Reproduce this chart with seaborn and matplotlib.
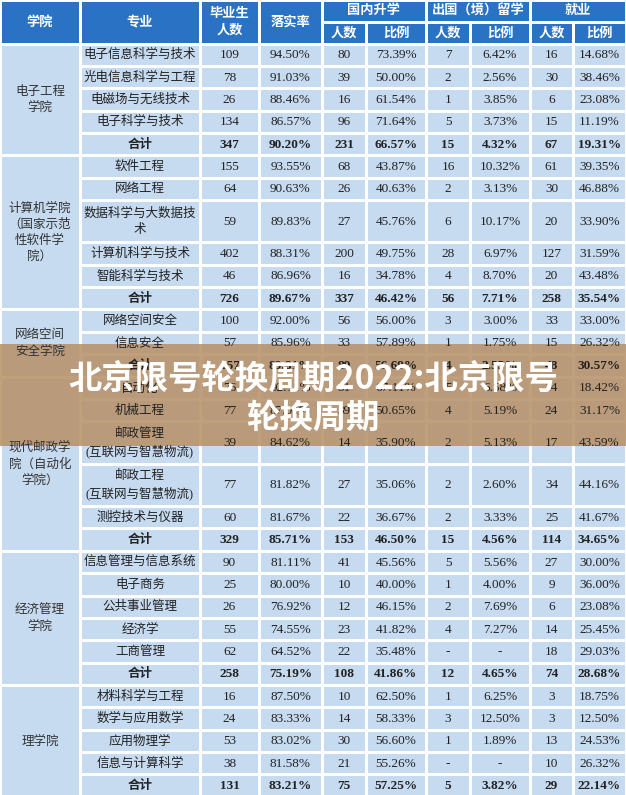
import matplotlib
matplotlib.use("Agg")
import matplotlib.pyplot as plt
import seaborn as sns
from matplotlib.patches import Rectangle

sns.set_theme(style="white")
plt.rcParams['font.family'] = ['Liberation Serif', 'Noto Sans CJK SC', 'DejaVu Sans']

colleges = ["电子工程\n学院", "计算机学院\n（国家示范\n性软件学\n院）", "网络空间\n安全学院",
            "现代邮政学\n院（自动化\n学院）", "经济管理\n学院", "理学院"]
majors = [
    ["电子信息科学与技术", "光电信息科学与工程", "电磁场与无线技术", "电子科学与技术", "合计"],
    ["软件工程", "网络工程", "数据科学与大数据技\n术", "计算机科学与技术", "智能科学与技术", "合计"],
    ["网络空间安全", "信息安全", "合计"],
    ["自动化", "机械工程", "邮政管理\n(互联网与智慧物流)", "邮政工程\n(互联网与智慧物流)", "测控技术与仪器", "合计"],
    ["信息管理与信息系统", "电子商务", "公共事业管理", "经济学", "工商管理", "合计"],
    ["材料科学与工程", "数学与应用数学", "应用物理学", "信息与计算科学", "合计"],
]
graduates = [[109, 78, 26, 134, 347], [155, 64, 59, 402, 46, 726], [100, 57, 157],
             [76, 77, 39, 77, 60, 329], [90, 25, 26, 55, 62, 258], [16, 24, 53, 38, 131]]
rate = [["94.50%", "91.03%", "88.46%", "86.57%", "90.20%"],
        ["93.55%", "90.63%", "89.83%", "88.31%", "86.96%", "89.67%"],
        ["92.00%", "85.96%", "89.81%"],
        ["92.11%", "87.01%", "84.62%", "81.82%", "81.67%", "85.71%"],
        ["81.11%", "80.00%", "76.92%", "74.55%", "64.52%", "75.19%"],
        ["87.50%", "83.33%", "83.02%", "81.58%", "83.21%"]]
dom_n = [[80, 39, 16, 96, 231], [68, 26, 27, 200, 16, 337], [56, 33, 89],
         [51, 39, 14, 27, 22, 153], [41, 10, 12, 23, 22, 108], [10, 14, 30, 21, 75]]
dom_p = [["73.39%", "50.00%", "61.54%", "71.64%", "66.57%"],
         ["43.87%", "40.63%", "45.76%", "49.75%", "34.78%", "46.42%"],
         ["56.00%", "57.89%", "56.69%"],
         ["67.11%", "50.65%", "35.90%", "35.06%", "36.67%", "46.50%"],
         ["45.56%", "40.00%", "46.15%", "41.82%", "35.48%", "41.86%"],
         ["62.50%", "58.33%", "56.60%", "55.26%", "57.25%"]]
abr_n = [[7, 2, 1, 5, 15], [16, 2, 6, 28, 4, 56], [3, 1, 4],
         [5, 4, 2, 2, 2, 15], [5, 1, 2, 4, "-", 12], [1, 3, 1, "-", 5]]
abr_p = [["6.42%", "2.56%", "3.85%", "3.73%", "4.32%"],
         ["10.32%", "3.13%", "10.17%", "6.97%", "8.70%", "7.71%"],
         ["3.00%", "1.75%", "2.55%"],
         ["6.58%", "5.19%", "5.13%", "2.60%", "3.33%", "4.56%"],
         ["5.56%", "4.00%", "7.69%", "7.27%", "-", "4.65%"],
         ["6.25%", "12.50%", "1.89%", "-", "3.82%"]]
emp_n = [[16, 30, 6, 15, 67], [61, 30, 20, 127, 20, 258], [33, 15, 48],
         [14, 24, 17, 34, 25, 114], [27, 9, 6, 14, 18, 74], [3, 3, 13, 10, 29]]
emp_p = [["14.68%", "38.46%", "23.08%", "11.19%", "19.31%"],
         ["39.35%", "46.88%", "33.90%", "31.59%", "43.48%", "35.54%"],
         ["33.00%", "26.32%", "30.57%"],
         ["18.42%", "31.17%", "43.59%", "44.16%", "41.67%", "34.65%"],
         ["30.00%", "36.00%", "23.08%", "25.45%", "29.03%", "28.68%"],
         ["18.75%", "12.50%", "24.53%", "26.32%", "22.14%"]]

W, H = 626, 795
fig = plt.figure(figsize=(W / 100, H / 100), dpi=100)
ax = fig.add_axes([0, 0, 1, 1])
ax.set_xlim(0, W)
ax.set_ylim(H, 0)
ax.axis("off")

xs = [0, 80, 200, 259, 322, 366, 426, 470, 530, 573, 626]
HDR = "#2a72c4"
BODY = "#c6daf0"
GAP = 1.5

def cell(x0, x1, y0, y1, text, color, tcolor="#222", bold=False, size=9.5):
    ax.add_patch(Rectangle((x0 + GAP, y0 + GAP), x1 - x0 - 2 * GAP, y1 - y0 - 2 * GAP,
                           facecolor=color, edgecolor="none"))
    if text != "":
        ax.text((x0 + x1) / 2, (y0 + y1) / 2, str(text), ha="center", va="center",
                color=tcolor, fontsize=size, fontweight="bold" if bold else "normal",
                linespacing=1.45)

cell(xs[0], xs[1], 0, 44, "学院", HDR, "white", True)
cell(xs[1], xs[2], 0, 44, "专业", HDR, "white", True)
cell(xs[2], xs[3], 0, 44, "毕业生\n人数", HDR, "white", True)
cell(xs[3], xs[4], 0, 44, "落实率", HDR, "white", True)
for i, g in enumerate(["国内升学", "出国（境）留学", "就业"]):
    c = 4 + 2 * i
    cell(xs[c], xs[c + 2], 0, 22, g, HDR, "white", True)
    cell(xs[c], xs[c + 1], 22, 44, "人数", HDR, "white", True)
    cell(xs[c + 1], xs[c + 2], 22, 44, "比例", HDR, "white", True)

h1 = 22.35
y = 44.0
for gi, col in enumerate(colleges):
    gy0 = y
    for ri, m in enumerate(majors[gi]):
        rh = h1 * 1.9 if "\n" in m else h1
        total = m == "合计"
        vals = [m, graduates[gi][ri], rate[gi][ri], dom_n[gi][ri], dom_p[gi][ri],
                abr_n[gi][ri], abr_p[gi][ri], emp_n[gi][ri], emp_p[gi][ri]]
        for ci, v in enumerate(vals):
            cell(xs[ci + 1], xs[ci + 2], y, y + rh, v, BODY, "#222", total,
                 9 if ci == 0 else 9.5)
        y += rh
    cell(xs[0], xs[1], gy0, y, col, BODY, "#333", False, 9)

ax.add_patch(Rectangle((0, 344), W, 102, facecolor="#b8926a", alpha=0.88, edgecolor="none"))
ax.text(W / 2, 379, "北京限号轮换周期2022:北京限号", ha="center", va="center",
        color="white", fontsize=24, fontweight="bold", family=["Noto Sans CJK SC"])
ax.text(W / 2, 418, "轮换周期", ha="center", va="center",
        color="white", fontsize=24, fontweight="bold", family=["Noto Sans CJK SC"])

fig.savefig("out.png", dpi=100)
